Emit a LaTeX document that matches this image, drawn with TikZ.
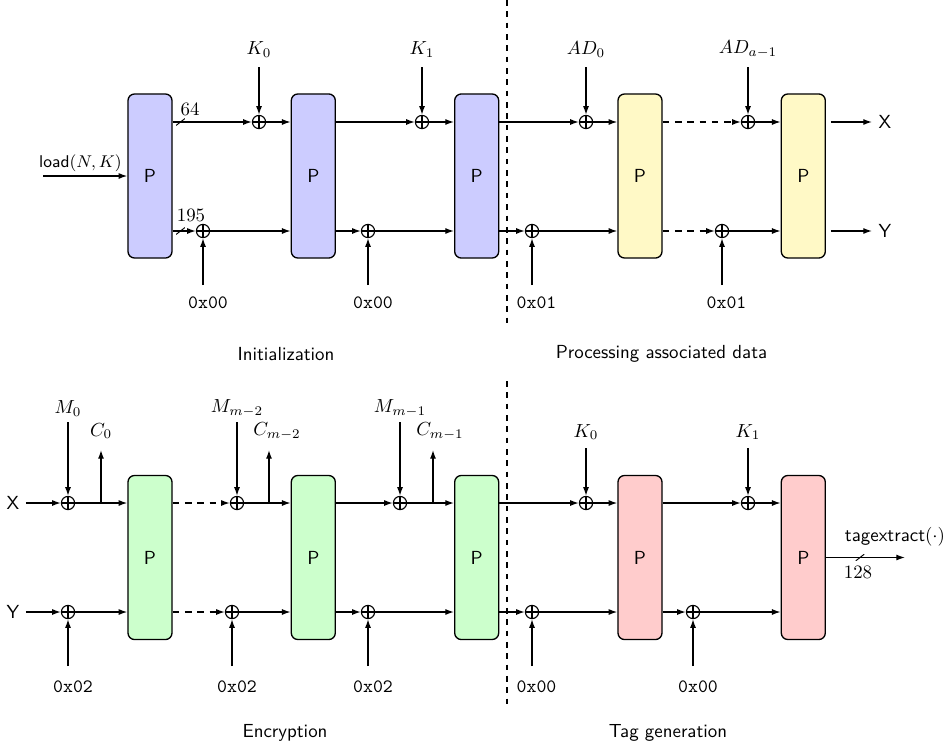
\documentclass[tikz,border=0pt]{standalone}
\usetikzlibrary{arrows.meta}
\definecolor{pblue}{RGB}{204,204,255}
\definecolor{pyellow}{RGB}{255,249,198}
\definecolor{pgreen}{RGB}{204,255,204}
\definecolor{pred}{RGB}{255,204,204}
\begin{document}
\begin{tikzpicture}[x=0.529pt,y=-0.529pt,font=\sffamily,
  pbox/.style={draw,rounded corners=3.5pt,minimum width=23.3pt,minimum height=86.8pt,inner sep=0pt,line width=0.7pt},
  xor/.style={circle,draw,minimum size=7pt,inner sep=0pt,line width=0.6pt,
    path picture={\draw[line width=0.6pt] (path picture bounding box.north) -- (path picture bounding box.south)
      (path picture bounding box.west) -- (path picture bounding box.east);}},
  arr/.style={-{Latex[length=4.6pt,width=3.2pt]},line width=0.7pt},
  dsh/.style={dash pattern=on 3.5pt off 3pt},
  divider/.style={dashed,line width=0.6pt},
  slashmark/.style={minimum width=4.6pt,minimum height=3.6pt,inner sep=0pt,
    path picture={\draw[line width=0.5pt] (path picture bounding box.south west) -- (path picture bounding box.north east);}}
]
\useasboundingbox (0,0) rectangle (949,751);

% ---------------- dividers
\coordinate (d1a) at (507,0);
\coordinate (d1b) at (507,326);
\coordinate (d2a) at (507,381);
\coordinate (d2b) at (507,707);
\draw[divider] (d1a) -- (d1b);
\draw[divider] (d2a) -- (d2b);

% ================= TOP ROW =================
\node[pbox,fill=pblue]   (a1) at (150,176) {P};
\node[pbox,fill=pblue]   (a2) at (313.3,176) {P};
\node[pbox,fill=pblue]   (a3) at (476.7,176) {P};
\node[pbox,fill=pyellow] (a4) at (640,176) {P};
\node[pbox,fill=pyellow] (a5) at (803.3,176) {P};

% xors top line
\node[xor] (tk0) at (259,122) {};
\node[xor] (tk1) at (422,122) {};
\node[xor] (tad0) at (586,122) {};
\node[xor] (tad1) at (748,122) {};
% xors bottom line
\node[xor] (bz0) at (203,231) {};
\node[xor] (bz1) at (368,231) {};
\node[xor] (bz2) at (532,231) {};
\node[xor] (bz3) at (722,231) {};

% labels above
\node (lk0) at (259,49.5) {$K_0$};
\node (lk1) at (422,49.5) {$K_1$};
\node (lad0) at (586,49.5) {$AD_0$};
\node (lad1) at (748,49.5) {$AD_{a-1}$};
\coordinate (tk0t) at (259,67);
\coordinate (tk1t) at (422,67);
\coordinate (tad0t) at (586,67);
\coordinate (tad1t) at (748,67);
\draw[arr] (tk0t) -- (tk0);
\draw[arr] (tk1t) -- (tk1);
\draw[arr] (tad0t) -- (tad0);
\draw[arr] (tad1t) -- (tad1);

% labels below
\node (lz0) at (208,303) {\texttt{0x00}};
\node (lz1) at (373,303) {\texttt{0x00}};
\node (lz2) at (536.5,303) {\texttt{0x01}};
\node (lz3) at (726.5,303) {\texttt{0x01}};
\coordinate (bz0b) at (203,285);
\coordinate (bz1b) at (368,285);
\coordinate (bz2b) at (532,285);
\coordinate (bz3b) at (722,285);
\draw[arr] (bz0b) -- (bz0);
\draw[arr] (bz1b) -- (bz1);
\draw[arr] (bz2b) -- (bz2);
\draw[arr] (bz3b) -- (bz3);

% load input
\coordinate (ldin) at (43,176);
\node[font=\small\sffamily] (lload) at (80.5,163) {load$(N,K)$};
\draw[arr] (ldin) -- (a1.west);

% top line connectors
\draw[arr] (a1.east |- tk0) -- (tk0);
\draw[arr] (tk0) -- (tk0 -| a2.west);
\draw[arr] (a2.east |- tk1) -- (tk1);
\draw[arr] (tk1) -- (tk1 -| a3.west);
\draw[arr] (a3.east |- tad0) -- (tad0);
\draw[arr] (tad0) -- (tad0 -| a4.west);
\draw[arr,dsh] (a4.east |- tad1) -- (tad1);
\draw[arr] (tad1) -- (tad1 -| a5.west);
% bottom line connectors
\draw[arr] (a1.east |- bz0) -- (bz0);
\draw[arr] (bz0) -- (bz0 -| a2.west);
\draw[arr] (a2.east |- bz1) -- (bz1);
\draw[arr] (bz1) -- (bz1 -| a3.west);
\draw[arr] (a3.east |- bz2) -- (bz2);
\draw[arr] (bz2) -- (bz2 -| a4.west);
\draw[arr,dsh] (a4.east |- bz3) -- (bz3);
\draw[arr] (bz3) -- (bz3 -| a5.west);

% slashes and widths
\node[slashmark] (s64) at (180.5,122) {};
\node (l64) at (190,109) {$64$};
\node[slashmark] (s195) at (180.5,231) {};
\node (l195) at (191,215) {$195$};

% outputs
\node (ox) at (885,122) {X};
\node (oy) at (885,231) {Y};
\draw[arr,shorten <=2.6pt] (a5.east |- ox) -- (ox.west);
\draw[arr,shorten <=2.6pt] (a5.east |- oy) -- (oy.west);

\node (cap1) at (286,354) {Initialization};
\node (cap2) at (661.5,354) {Processing associated data};

% ================= BOTTOM ROW =================
\node[pbox,fill=pgreen] (e1) at (150,557.5) {P};
\node[pbox,fill=pgreen] (e2) at (313.3,557.5) {P};
\node[pbox,fill=pgreen] (e3) at (476.7,557.5) {P};
\node[pbox,fill=pred]   (e4) at (640,557.5) {P};
\node[pbox,fill=pred]   (e5) at (803.3,557.5) {P};

\node[xor] (xm0) at (68,503) {};
\node[xor] (xm1) at (237,503) {};
\node[xor] (xm2) at (400,503) {};
\node[xor] (xk0) at (586,503) {};
\node[xor] (xk1) at (748,503) {};

\node[xor] (xy0) at (68,612) {};
\node[xor] (xy1) at (232,612) {};
\node[xor] (xy2) at (368,612) {};
\node[xor] (xy3) at (532,612) {};
\node[xor] (xy4) at (693,612) {};

% inputs X, Y
\node (ix) at (13,503) {X};
\node (iy) at (13,612) {Y};
\draw[arr] (ix.east) -- (xm0);
\draw[arr] (iy.east) -- (xy0);

% M / K labels
\node (lm0) at (68,408.5) {$M_0$};
\node (lm1) at (237,408.5) {$M_{m-2}$};
\node (lm2) at (400,408.5) {$M_{m-1}$};
\node (lek0) at (586,432) {$K_0$};
\node (lek1) at (748,432) {$K_1$};
\coordinate (xm0t) at (68,422);
\coordinate (xm1t) at (237,422);
\coordinate (xm2t) at (400,422);
\coordinate (xk0t) at (586,448);
\coordinate (xk1t) at (748,448);
\draw[arr] (xm0t) -- (xm0);
\draw[arr] (xm1t) -- (xm1);
\draw[arr] (xm2t) -- (xm2);
\draw[arr] (xk0t) -- (xk0);
\draw[arr] (xk1t) -- (xk1);

% C taps
\coordinate (c0) at (101,503);
\coordinate (c1) at (269,503);
\coordinate (c2) at (433,503);
\coordinate (c0t) at (101,450);
\coordinate (c1t) at (269,450);
\coordinate (c2t) at (433,450);
\draw[arr] (c0) -- (c0t);
\draw[arr] (c1) -- (c1t);
\draw[arr] (c2) -- (c2t);
\node (lc0) at (101,431) {$C_0$};
\node (lc1) at (277,431) {$C_{m-2}$};
\node (lc2) at (440,431) {$C_{m-1}$};

% constants below
\node (le0) at (73,687) {\texttt{0x02}};
\node (le1) at (237,687) {\texttt{0x02}};
\node (le2) at (373,687) {\texttt{0x02}};
\node (le3) at (536.5,687) {\texttt{0x00}};
\node (le4) at (698,687) {\texttt{0x00}};
\coordinate (xy0b) at (68,666);
\coordinate (xy1b) at (232,666);
\coordinate (xy2b) at (368,666);
\coordinate (xy3b) at (532,666);
\coordinate (xy4b) at (693,666);
\draw[arr] (xy0b) -- (xy0);
\draw[arr] (xy1b) -- (xy1);
\draw[arr] (xy2b) -- (xy2);
\draw[arr] (xy3b) -- (xy3);
\draw[arr] (xy4b) -- (xy4);

% X line connectors
\draw[arr] (xm0) -- (xm0 -| e1.west);
\draw[arr,dsh] (e1.east |- xm1) -- (xm1);
\draw[arr] (xm1) -- (xm1 -| e2.west);
\draw[arr] (e2.east |- xm2) -- (xm2);
\draw[arr] (xm2) -- (xm2 -| e3.west);
\draw[arr] (e3.east |- xk0) -- (xk0);
\draw[arr] (xk0) -- (xk0 -| e4.west);
\draw[arr] (e4.east |- xk1) -- (xk1);
\draw[arr] (xk1) -- (xk1 -| e5.west);
% Y line connectors
\draw[arr] (xy0) -- (xy0 -| e1.west);
\draw[arr,dsh] (e1.east |- xy1) -- (xy1);
\draw[arr] (xy1) -- (xy1 -| e2.west);
\draw[arr] (e2.east |- xy2) -- (xy2);
\draw[arr] (xy2) -- (xy2 -| e3.west);
\draw[arr] (e3.east |- xy3) -- (xy3);
\draw[arr] (xy3) -- (xy3 -| e4.west);
\draw[arr] (e4.east |- xy4) -- (xy4);
\draw[arr] (xy4) -- (xy4 -| e5.west);

% tag output
\coordinate (tagend) at (905,557.5);
\draw[arr] (e5.east) -- (tagend);
\node[slashmark] (s128) at (860,557.5) {};
\node (l128) at (858,572) {$128$};
\node (ltag) at (895,537) {tagextract$(\cdot)$};

\node (cap3) at (285,733) {Encryption};
\node (cap4) at (668,733) {Tag generation};
\end{tikzpicture}
\end{document}
